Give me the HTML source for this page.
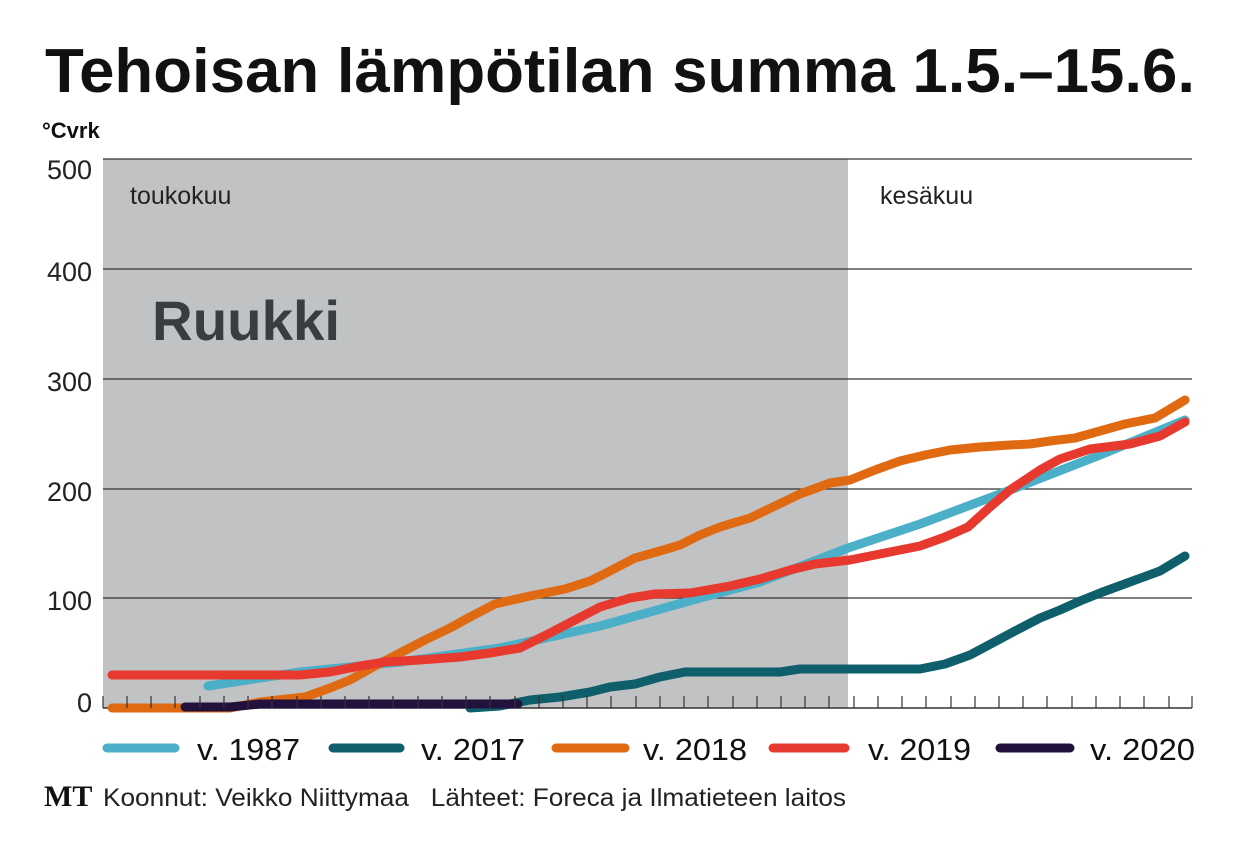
<!DOCTYPE html>
<html><head><meta charset="utf-8"><style>body{margin:0;background:#fff}svg{display:block}</style></head><body>
<svg width="1240" height="854" viewBox="0 0 1240 854" xmlns="http://www.w3.org/2000/svg" font-family="Liberation Sans, sans-serif">
<text x="45" y="92" font-size="62" font-weight="bold" fill="#111" textLength="1150" lengthAdjust="spacingAndGlyphs">Tehoisan lämpötilan summa 1.5.–15.6.</text>
<text x="42" y="138" font-size="22" font-weight="bold" fill="#111">°Cvrk</text>
<rect x="103" y="159" width="745" height="549" fill="#c0c2c4"/>
<g stroke="#333" stroke-width="1.2">
<line x1="103" y1="159" x2="1192" y2="159"/><line x1="103" y1="269" x2="1192" y2="269"/><line x1="103" y1="379" x2="1192" y2="379"/><line x1="103" y1="489" x2="1192" y2="489"/><line x1="103" y1="598" x2="1192" y2="598"/>
<line x1="103" y1="708" x2="1192" y2="708" stroke-width="1.5"/>
</g>
<g font-size="27" fill="#222" text-anchor="end">
<text x="92" y="179">500</text><text x="92" y="281">400</text><text x="92" y="391">300</text><text x="92" y="501">200</text><text x="92" y="610">100</text><text x="92" y="712">0</text>
</g>
<text x="130" y="204" font-size="25" fill="#222">toukokuu</text>
<text x="880" y="204" font-size="25" fill="#222">kesäkuu</text>
<text x="152" y="340" font-size="56" font-weight="bold" fill="#3a3d40" textLength="188" lengthAdjust="spacingAndGlyphs">Ruukki</text>
<g fill="none" stroke-width="9" stroke-linecap="round" stroke-linejoin="round">
<polyline stroke="#4bafc8" points="208,686 300,672 400,662 500,648 600,626 700,598 760,582 848,548 920,524 1000,494 1100,455 1185,420"/>
<polyline stroke="#0e5f6b" points="470,708 500,706 530,700 560,697 590,692 610,687 635,684 660,677 685,672 780,672 800,669 920,669 945,664 970,655 1000,639 1015,631 1040,618 1060,610 1080,601 1100,593 1130,582 1160,571 1185,556"/>
<polyline stroke="#e06a12" points="112,708 230,708 260,702 305,697 330,688 350,680 375,666 400,653 425,640 450,628 470,617 495,604 530,596 565,589 590,581 610,571 635,558 660,551 680,545 700,535 720,527 750,518 775,506 800,494 830,483 850,480 875,470 900,461 925,455 950,450 980,447 1010,445 1030,444 1050,441 1075,438 1100,431 1125,424 1155,418 1185,400"/>
<polyline stroke="#e8392f" points="112,675 300,675 330,672 360,666 385,662 420,660 460,657 490,653 520,648 550,633 575,620 600,607 630,598 655,594 690,593 730,586 760,579 790,570 815,564 850,560 880,554 920,546 945,537 968,527 990,507 1010,490 1040,470 1060,459 1090,449 1130,444 1160,436 1185,422"/>
<polyline stroke="#22103d" points="185,707 230,707 260,704 518,704"/>
</g>
<g stroke-width="9" stroke-linecap="round">
<line x1="107" y1="748" x2="175" y2="748" stroke="#4bafc8"/>
<line x1="333" y1="748" x2="400" y2="748" stroke="#0e5f6b"/>
<line x1="556" y1="748" x2="625" y2="748" stroke="#e06a12"/>
<line x1="773" y1="748" x2="845" y2="748" stroke="#e8392f"/>
<line x1="1000" y1="748" x2="1070" y2="748" stroke="#22103d"/>
</g>
<g font-size="31" fill="#111">
<text x="197" y="760" textLength="103" lengthAdjust="spacingAndGlyphs">v. 1987</text>
<text x="421" y="760" textLength="104" lengthAdjust="spacingAndGlyphs">v. 2017</text>
<text x="643" y="760" textLength="104" lengthAdjust="spacingAndGlyphs">v. 2018</text>
<text x="868" y="760" textLength="103" lengthAdjust="spacingAndGlyphs">v. 2019</text>
<text x="1090" y="760" textLength="105" lengthAdjust="spacingAndGlyphs">v. 2020</text>
</g>
<text x="44" y="806" font-size="30" font-weight="bold" font-family="Liberation Serif, serif" fill="#111">MT</text>
<text x="103" y="806" font-size="25" fill="#222" textLength="743" lengthAdjust="spacingAndGlyphs" xml:space="preserve">Koonnut: Veikko Niittymaa   Lähteet: Foreca ja Ilmatieteen laitos</text>
<g stroke="#333" stroke-width="1.2">
<line x1="103" y1="696" x2="103" y2="708"/><line x1="127" y1="696" x2="127" y2="708"/><line x1="151" y1="696" x2="151" y2="708"/><line x1="175" y1="696" x2="175" y2="708"/><line x1="200" y1="696" x2="200" y2="708"/><line x1="224" y1="696" x2="224" y2="708"/><line x1="248" y1="696" x2="248" y2="708"/><line x1="272" y1="696" x2="272" y2="708"/><line x1="297" y1="696" x2="297" y2="708"/><line x1="321" y1="696" x2="321" y2="708"/><line x1="345" y1="696" x2="345" y2="708"/><line x1="369" y1="696" x2="369" y2="708"/><line x1="393" y1="696" x2="393" y2="708"/><line x1="418" y1="696" x2="418" y2="708"/><line x1="442" y1="696" x2="442" y2="708"/><line x1="466" y1="696" x2="466" y2="708"/><line x1="490" y1="696" x2="490" y2="708"/><line x1="515" y1="696" x2="515" y2="708"/><line x1="539" y1="696" x2="539" y2="708"/><line x1="563" y1="696" x2="563" y2="708"/><line x1="587" y1="696" x2="587" y2="708"/><line x1="611" y1="696" x2="611" y2="708"/><line x1="636" y1="696" x2="636" y2="708"/><line x1="660" y1="696" x2="660" y2="708"/><line x1="684" y1="696" x2="684" y2="708"/><line x1="708" y1="696" x2="708" y2="708"/><line x1="733" y1="696" x2="733" y2="708"/><line x1="757" y1="696" x2="757" y2="708"/><line x1="781" y1="696" x2="781" y2="708"/><line x1="805" y1="696" x2="805" y2="708"/><line x1="829" y1="696" x2="829" y2="708"/><line x1="854" y1="696" x2="854" y2="708"/><line x1="878" y1="696" x2="878" y2="708"/><line x1="902" y1="696" x2="902" y2="708"/><line x1="926" y1="696" x2="926" y2="708"/><line x1="951" y1="696" x2="951" y2="708"/><line x1="975" y1="696" x2="975" y2="708"/><line x1="999" y1="696" x2="999" y2="708"/><line x1="1023" y1="696" x2="1023" y2="708"/><line x1="1047" y1="696" x2="1047" y2="708"/><line x1="1072" y1="696" x2="1072" y2="708"/><line x1="1096" y1="696" x2="1096" y2="708"/><line x1="1120" y1="696" x2="1120" y2="708"/><line x1="1144" y1="696" x2="1144" y2="708"/><line x1="1169" y1="696" x2="1169" y2="708"/><line x1="1192" y1="696" x2="1192" y2="708"/>
</g>
</svg>
</body></html>
